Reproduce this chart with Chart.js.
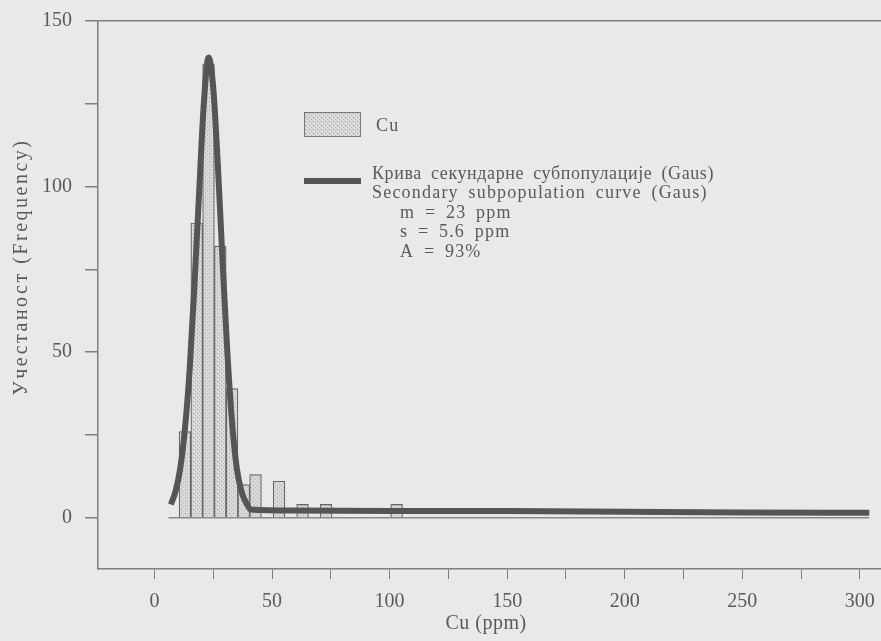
<!DOCTYPE html>
<html>
<head>
<meta charset="utf-8">
<script src="https://cdn.jsdelivr.net/npm/chart.js@4/dist/chart.umd.min.js"></script>
<style>
  html, body { margin: 0; padding: 0; background: #e9e9e9; }
  canvas { display: block; }
</style>
</head>
<body>
<canvas id="chart" width="881" height="641"></canvas>
<script>
// histogram bins (centre, ppm) and counts
const binCenters = [13, 18, 23, 28, 33, 38, 43, 53, 63, 73, 103];
const binCounts  = [26, 89, 137, 82, 39, 10, 13, 11, 4, 4, 4];

// fitted curve
const curveX = [7, 9, 11, 13, 15, 17, 19, 21, 23, 25, 27, 29, 31, 33, 35, 37, 39, 41, 60, 100, 150, 200, 250, 304];
const curveY = [4, 8, 15, 27, 45, 70, 98, 125, 139, 130, 106, 77, 50, 29, 15, 8, 4.5, 2.5, 2.2, 2, 2, 1.8, 1.6, 1.5];

// zero line under the histogram
const baseX = [6, 304];
const baseY = [0, 0];

const xTickValues = [0, 25, 50, 75, 100, 125, 150, 175, 200, 225, 250, 275, 300];
const yTickValues = [0, 25, 50, 75, 100, 125, 150];

const legendLines = [
  'Крива секундарне субпопулације (Gaus)',
  'Secondary subpopulation curve (Gaus)'
];
const statLines = ['m = 23 ppm', 's = 5.6 ppm', 'A = 93%'];

const FONT = '"Liberation Serif", "Times New Roman", serif';
const INK = '#5a5a5a';
const AXIS = '#808080';

function makePattern() {
  const c = document.createElement('canvas');
  c.width = 4; c.height = 4;
  const g = c.getContext('2d');
  g.fillStyle = '#d9d9d9';
  g.fillRect(0, 0, 4, 4);
  g.fillStyle = '#9a9a9a';
  g.fillRect(1, 1, 1, 1);
  g.fillStyle = '#b5b5b5';
  g.fillRect(3, 3, 1, 1);
  return document.getElementById('chart').getContext('2d').createPattern(c, 'repeat');
}
const dots = makePattern();

const extras = {
  id: 'extras',
  afterDraw(chart) {
    const ctx = chart.ctx;
    ctx.save();
    ctx.fillStyle = INK;
    ctx.textBaseline = 'middle';

    // axis titles
    ctx.font = '20px ' + FONT;
    ctx.textAlign = 'center';
    ctx.letterSpacing = '0.5px';
    ctx.fillText('Cu (ppm)', 486, 624);
    ctx.save();
    ctx.translate(22, 267);
    ctx.rotate(-Math.PI / 2);
    ctx.letterSpacing = '2.5px';
    ctx.fillText('Учестаност (Frequency)', 0, 0);
    ctx.restore();

    // legend
    ctx.fillStyle = dots;
    ctx.fillRect(304, 112, 57, 25);
    ctx.strokeStyle = '#777';
    ctx.lineWidth = 1;
    ctx.strokeRect(304.5, 112.5, 56, 24);

    ctx.strokeStyle = '#555';
    ctx.lineWidth = 6;
    ctx.beginPath();
    ctx.moveTo(304, 181);
    ctx.lineTo(361, 181);
    ctx.stroke();

    ctx.fillStyle = INK;
    ctx.textAlign = 'left';
    ctx.font = '18px ' + FONT;
    ctx.wordSpacing = '4px';
    ctx.letterSpacing = '0.6px';
    ctx.fillText(legendLines[0], 372, 174);
    ctx.letterSpacing = '1.2px';
    ctx.fillText('Cu', 376, 126);
    ctx.fillText(legendLines[1], 372, 193);
    statLines.forEach((t, i) => ctx.fillText(t, 400, 213 + i * 19.5));
    ctx.restore();
  }
};

const tickFont = { family: FONT, size: 20 };

new Chart(document.getElementById('chart'), {
  type: 'bar',
  data: {
    datasets: [
      {
        type: 'line',
        data: curveX.map((x, i) => ({ x, y: curveY[i] })),
        borderColor: '#555',
        borderWidth: 6,
        pointRadius: 0,
        cubicInterpolationMode: 'monotone',
        order: 0
      },
      {
        type: 'line',
        data: baseX.map((x, i) => ({ x, y: baseY[i] })),
        borderColor: '#8a8a8a',
        borderWidth: 1.5,
        pointRadius: 0,
        order: 2
      },
      {
        type: 'bar',
        data: binCenters.map((x, i) => ({ x, y: binCounts[i] })),
        backgroundColor: dots,
        borderColor: '#666',
        borderWidth: 1.2,
        barPercentage: 1,
        categoryPercentage: 1,
        order: 1
      }
    ]
  },
  options: {
    responsive: false,
    animation: false,
    devicePixelRatio: 1,
    layout: { padding: { top: 21, right: 0, left: 0, bottom: 0 } },
    plugins: { legend: { display: false }, tooltip: { enabled: false } },
    scales: {
      x: {
        type: 'linear',
        min: -24,
        max: 309,
        offset: false,
        afterFit: s => { s.height = 72; s.paddingLeft = 0; s.paddingRight = 0; },
        afterBuildTicks: s => { s.ticks = xTickValues.map(v => ({ value: v })); },
        grid: { drawOnChartArea: false, offset: false, tickLength: 10, color: AXIS },
        border: { color: AXIS, width: 1.5 },
        ticks: {
          autoSkip: false,
          maxRotation: 0,
          padding: 11,
          color: INK,
          font: tickFont,
          callback: v => (v % 50 === 0 ? v : '')
        }
      },
      y: {
        min: -15.5,
        max: 150,
        afterFit: s => { s.width = 98; s.paddingTop = 0; s.paddingBottom = 0; },
        afterBuildTicks: s => { s.ticks = yTickValues.map(v => ({ value: v })); },
        grid: {
          tickLength: 13,
          lineWidth: 1.5,
          color: c => (c.tick && c.tick.value === 150 ? AXIS : 'rgba(0,0,0,0)'),
          tickColor: AXIS
        },
        border: { color: AXIS, width: 1.5 },
        ticks: {
          padding: 13,
          color: INK,
          font: tickFont,
          callback: v => (v % 50 === 0 ? v : '')
        }
      }
    }
  },
  plugins: [extras]
});
</script>
</body>
</html>
